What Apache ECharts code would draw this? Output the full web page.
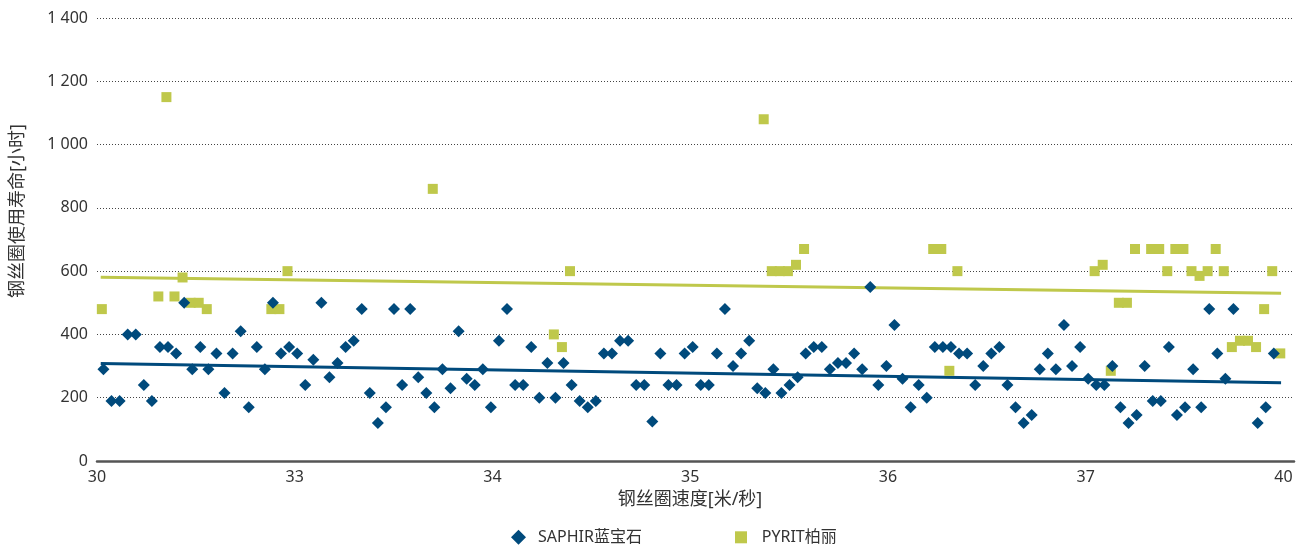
<!DOCTYPE html>
<html>
<head>
<meta charset="utf-8">
<script src="https://cdn.jsdelivr.net/npm/echarts@6/dist/echarts.min.js"></script>
<style>
html,body{margin:0;padding:0;background:#fff;}
#chart{width:1303px;height:549px;}
</style>
</head>
<body>
<div id="chart"></div>
<script>
// x-axis tick labels (evenly spaced on the axis)
const xTickLabels = ['30', '33', '34', '35', '36', '37', '40'];
const yTickLabels = {0: '0', 200: '200', 400: '400', 600: '600', 800: '800', 1000: '1 000', 1200: '1 200', 1400: '1 400'};

// SAPHIR 蓝宝石: one value per measurement position (null = no point)
const saphirValues = [
  290, 190, 190, 400, 400, 240, 190, 360, 360, 340,
  500, 290, 360, 290, 340, 215, 340, 410, 170, 360,
  290, 500, 340, 360, 340, 240, 320, 500, 265, 310,
  360, 380, 480, 215, 120, 170, 480, 240, 480, 265,
  215, 170, 290, 230, 410, 260, 240, 290, 170, 380,
  480, 240, 240, 360, 200, 310, 200, 310, 240, 190,
  170, 190, 340, 340, 380, 380, 240, 240, 125, 340,
  240, 240, 340, 360, 240, 240, 340, 480, 300, 340,
  380, 230, 215, 290, 215, 240, 265, 340, 360, 360,
  290, 310, 310, 340, 290, 550, 240, 300, 430, 260,
  170, 240, 200, 360, 360, 360, 340, 340, 240, 300,
  340, 360, 240, 170, 120, 145, 290, 340, 290, 430,
  300, 360, 260, 240, 240, 300, 170, 120, 145, 300,
  190, 190, 360, 145, 170, 290, 170, 480, 340, 260,
  480, null, null, 120, 170, 340
];

// PYRIT 柏丽: measurement positions and values
const pyritIndex = [
  0, 7, 8, 9, 10, 11, 12, 13, 21, 22, 23, 41, 56, 57, 58,
  82, 83, 84, 85, 86, 87, 103, 104, 105, 106,
  123, 124, 125, 126, 127, 128, 130, 131, 132, 133, 134, 135, 136, 137, 138,
  139, 140, 141, 142, 143, 144, 145, 146
];
const pyritValues = [
  480, 520, 1150, 520, 580, 500, 500, 480, 480, 480, 600, 860, 400, 360, 600,
  1080, 600, 600, 600, 620, 670, 670, 670, 285, 600,
  600, 620, 285, 500, 500, 670, 670, 670, 600, 670, 670, 600, 585, 600, 670,
  600, 360, 380, 380, 360, 480, 600, 340
];

// trend lines (start / end values)
const trendPos = [-0.34, 145.9];
const saphirTrend = [308, 247];
const pyritTrend = [581, 530];

const BLUE = '#004a7c';
const GREEN = '#bfc84b';
const FONT = "'Noto Sans', 'Noto Sans CJK SC', sans-serif";
const LABEL_STEP = 24.5;     // positions per labelled tick
const POS_OFFSET = 0.8;      // first position relative to axis start
const PYRIT_SHIFT = -0.2;

const saphirData = [];
saphirValues.forEach((v, i) => { if (v !== null) saphirData.push([i + POS_OFFSET, v]); });
const pyritData = pyritIndex.map((p, i) => [p + POS_OFFSET + PYRIT_SHIFT, pyritValues[i]]);
const saphirTrendData = trendPos.map((p, i) => [p + POS_OFFSET, saphirTrend[i]]);
const pyritTrendData = trendPos.map((p, i) => [p + POS_OFFSET, pyritTrend[i]]);

const chart = echarts.init(document.getElementById('chart'), null, {renderer: 'canvas'});
chart.setOption({
  animation: false,
  textStyle: {fontFamily: FONT},
  grid: {left: 97, right: 9, top: 18, bottom: 88, containLabel: false},
  xAxis: {
    type: 'value',
    min: 0,
    max: 148.3,
    interval: LABEL_STEP,
    name: '钢丝圈速度[米/秒]',
    nameLocation: 'middle',
    nameGap: 30,
    nameTextStyle: {fontFamily: FONT, fontSize: 18, color: '#333', padding: [0, 11, 0, 0]},
    axisLine: {show: true, onZero: false, lineStyle: {color: '#555', width: 2.5}},
    axisTick: {show: false},
    splitLine: {show: false},
    axisLabel: {
      margin: 8,
      fontFamily: FONT, fontSize: 16, color: '#333',
      formatter: v => {
        const k = v / LABEL_STEP;
        if (Math.abs(k - Math.round(k)) > 1e-6) return '';
        return xTickLabels[Math.round(k)] || '';
      }
    }
  },
  yAxis: {
    type: 'value',
    min: 0,
    max: 1400,
    interval: 200,
    axisLine: {show: false},
    axisTick: {show: false},
    splitLine: {show: true, lineStyle: {color: '#444', width: 1, type: [1, 2]}},
    axisLabel: {
      margin: 9,
      fontFamily: FONT, fontSize: 16, color: '#333',
      padding: [0, 0, 8, 0],
      formatter: v => yTickLabels[v] !== undefined ? yTickLabels[v] : ''
    }
  },
  graphic: [{
    type: 'text',
    x: 18, y: 211,
    rotation: Math.PI / 2,
    style: {
      text: '钢丝圈使用寿命[小时]',
      fontFamily: FONT, fontSize: 18, fill: '#333',
      align: 'center', verticalAlign: 'middle'
    }
  }],
  legend: [{
    data: [{name: 'SAPHIR蓝宝石', icon: 'path://M0,1L1,0L2,1L1,2Z'}],
    left: 511, top: 529.3, padding: 0,
    itemWidth: 29, itemHeight: 15,
    symbolKeepAspect: true,
    textStyle: {fontFamily: FONT, fontSize: 16, color: '#333', lineHeight: 16},
    selectedMode: false
  }, {
    data: [{name: 'PYRIT柏丽', icon: 'path://M0,0L1,0L1,1L0,1Z'}],
    left: 735, top: 529.3, padding: 0,
    itemWidth: 31.4, itemHeight: 12,
    symbolKeepAspect: true,
    textStyle: {fontFamily: FONT, fontSize: 16, color: '#333', lineHeight: 16},
    selectedMode: false
  }],
  series: [
    {
      name: 'PYRIT趋势', type: 'line', data: pyritTrendData, symbol: 'none', silent: true,
      lineStyle: {color: GREEN, width: 3}, z: 1
    },
    {
      name: 'SAPHIR趋势', type: 'line', data: saphirTrendData, symbol: 'none', silent: true,
      lineStyle: {color: BLUE, width: 3}, z: 1
    },
    {
      name: 'PYRIT柏丽', type: 'scatter', data: pyritData,
      symbol: 'rect', symbolSize: 10,
      itemStyle: {color: GREEN, opacity: 1}, z: 2
    },
    {
      name: 'SAPHIR蓝宝石', type: 'scatter', data: saphirData,
      symbol: 'diamond', symbolSize: 12,
      itemStyle: {color: BLUE, opacity: 1}, z: 3
    }
  ]
});
</script>
</body>
</html>
